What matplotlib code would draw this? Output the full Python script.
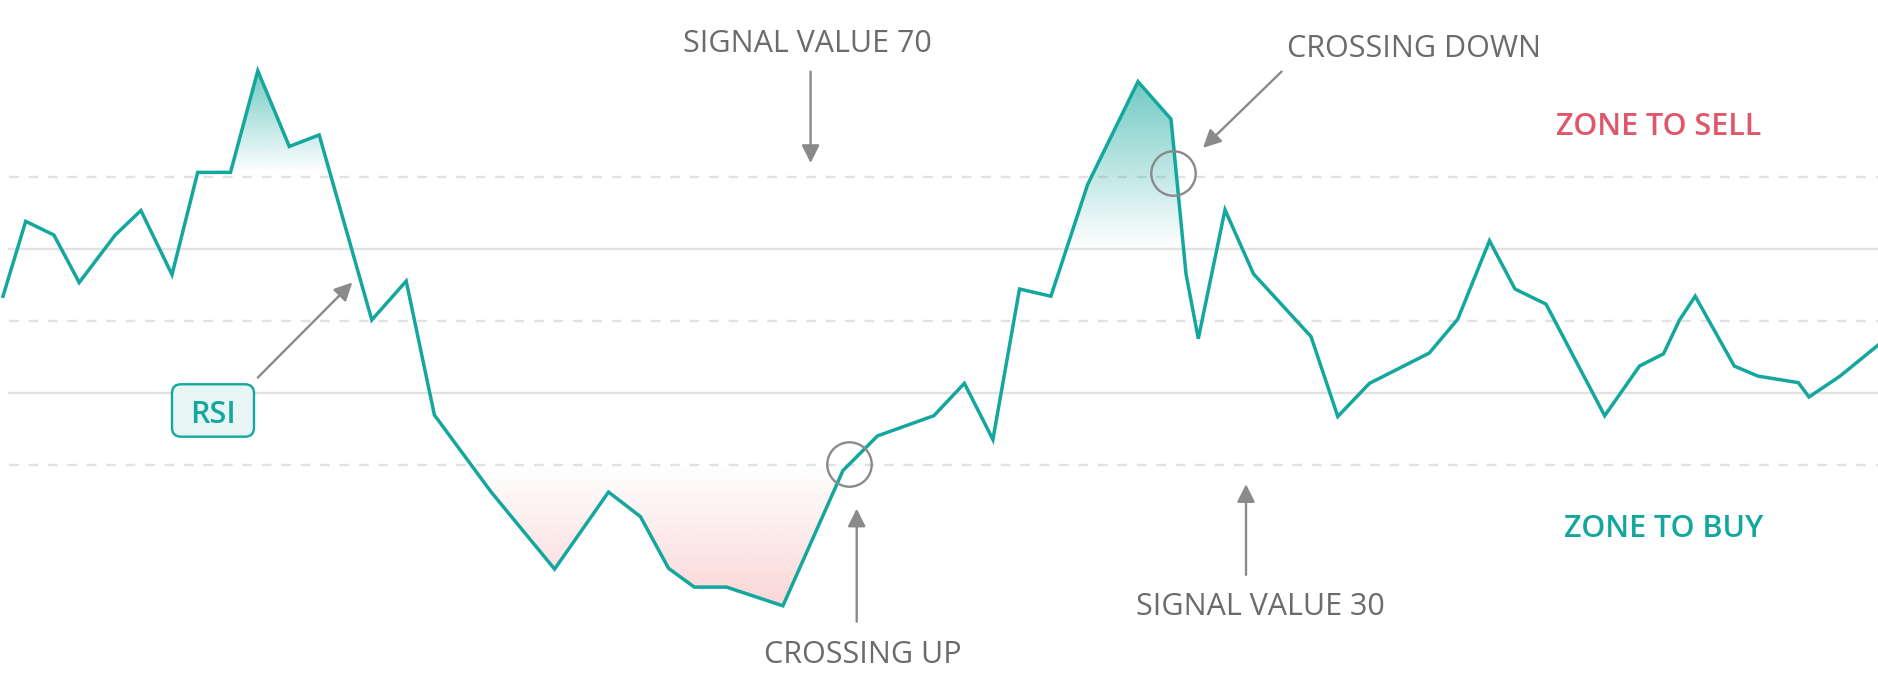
import matplotlib.pyplot as plt
import numpy as np
from matplotlib.colors import to_rgb
from matplotlib.patches import FancyBboxPatch

plt.rcParams['font.family'] = ['Open Sans', 'DejaVu Sans']
plt.rcParams['lines.scale_dashes'] = False

# RSI curve (x = time position, y = RSI value)
t = [3, 25.7, 53.9, 79.2, 115.2, 140.9, 172, 197.7, 230.5, 257.8,
     289.3, 319.2, 371.8, 406.2, 434.4, 491.2, 554.6, 608.5, 640.4, 668.6,
     694.3, 726.5, 782.9, 843, 877.5, 933.8, 964.4, 992.9, 1019.5, 1050.9,
     1087.6, 1138, 1171, 1186, 1198.3, 1225, 1253.5, 1311, 1337.8, 1369.5,
     1429.2, 1457.7, 1489.5, 1515, 1546, 1604.7, 1639.5, 1663.5, 1679.5, 1695.2,
     1734.3, 1758, 1798.3, 1809, 1840, 1878]
rsi = [53.4, 63.8, 61.9, 55.3, 61.9, 65.3, 56.4, 70.6, 70.6, 84.7,
       74.2, 75.8, 50.1, 55.5, 36.9, 26.2, 15.5, 26.2, 22.8, 15.6,
       13.0, 13.0, 10.4, 29.2, 34.0, 36.8, 41.3, 33.5, 54.4, 53.4,
       68.9, 83.2, 78.0, 56.5, 47.5, 65.4, 56.5, 47.8, 36.7, 41.3,
       45.5, 50.2, 61.1, 54.4, 52.3, 36.8, 43.7, 45.4, 50.1, 53.4,
       43.7, 42.3, 41.4, 39.4, 42.3, 46.6]

levels = [70, 60, 50, 40, 30]
dashed_levels = [70, 50, 30]
signal_high = 70
signal_low = 30

# crossing points marked with circles
cross_t = [849, 1172.7]
cross_v = [30.1, 70.5]

teal = '#14a79d'
red = '#e0566a'
grey = '#8a8a8a'
text_grey = '#6b6b6b'

t_arr = np.array(t)
v_arr = np.array(rsi)

fig = plt.figure(figsize=(18.78, 6.78), dpi=100)
ax = fig.add_axes([0, 0, 1, 1])
ax.set_xlim(0, 1878)
ax.set_ylim(0.375, 94.54)
ax.axis('off')

for lv in levels:
    ls = (0, (7, 7)) if lv in dashed_levels else '-'
    ax.axhline(lv, xmin=0.005, color='#e2e2e2', lw=1.7, ls=ls, zorder=1)


def gradient_fill(mask, base, color, alpha, fade_up=True):
    coll = ax.fill_between(t_arr, v_arr, base, where=mask, interpolate=True,
                           facecolor='none', edgecolor='none')
    path = coll.get_paths()[0]
    ext = path.get_extents()
    n = 256
    img = np.zeros((n, 1, 4))
    img[..., :3] = to_rgb(color)
    if fade_up:
        img[:, 0, 3] = np.linspace(0, alpha, n)
    else:
        img[:, 0, 3] = np.linspace(alpha, 0, n)
    im = ax.imshow(img, extent=[ext.x0, ext.x1, ext.y0, ext.y1], origin='lower',
                   aspect='auto', interpolation='bilinear', zorder=2)
    im.set_clip_path(path, transform=ax.transData)


gradient_fill((v_arr >= 70.6) & (t_arr < 400), 70.6, teal, 0.6)
gradient_fill((v_arr >= 60) & (t_arr > 1000) & (t_arr < 1200), 60, teal, 0.6)
gradient_fill(v_arr <= signal_low, signal_low, '#f08080', 0.32, fade_up=False)

ax.plot(t, rsi, color=teal, lw=2.5, solid_joinstyle='miter', zorder=3)

ax.plot(cross_t, cross_v, 'o', ms=32, mfc='none', mec=grey, mew=1.7, zorder=4)

arrow = dict(arrowstyle='-|>,head_length=0.6,head_width=0.3', mutation_scale=18,
             color=grey, lw=1.7, shrinkA=0, shrinkB=0)
ax.annotate('', xy=(810.6, 71.9), xytext=(810.6, 84.6), arrowprops=arrow)
ax.annotate('', xy=(1203, 74.0), xytext=(1281.6, 84.6), arrowprops=arrow)
ax.annotate('', xy=(352.3, 55.3), xytext=(257.8, 42.1), arrowprops=arrow)
ax.annotate('', xy=(856.7, 23.9), xytext=(856.7, 8.2), arrowprops=arrow)
ax.annotate('', xy=(1246, 27.3), xytext=(1246, 14.7), arrowprops=arrow)

fs = 22
ax.text(807.5, 87.36, 'SIGNAL VALUE 70', ha='center', va='baseline', fontsize=fs, color=text_grey)
ax.text(1414, 86.58, 'CROSSING DOWN', ha='center', va='baseline', fontsize=fs, color=text_grey)
ax.text(1260, 9.13, 'SIGNAL VALUE 30', ha='center', va='baseline', fontsize=fs, color=text_grey)
ax.text(863, 2.42, 'CROSSING UP', ha='center', va='baseline', fontsize=fs, color=text_grey)
ax.text(1659, 75.79, 'ZONE TO SELL', ha='center', va='baseline', fontsize=fs,
        color=red, fontweight='semibold')
ax.text(1664, 20.0, 'ZONE TO BUY', ha='center', va='baseline', fontsize=fs,
        color=teal, fontweight='semibold')

box = FancyBboxPatch((172, 33.89), 82, 7.28, boxstyle='round,pad=0,rounding_size=9',
                     mutation_aspect=1 / 7.2, fc='#e7f6f4', ec=teal, lw=1.7, zorder=4)
ax.add_patch(box)
ax.text(213, 35.75, 'RSI', ha='center', va='baseline', fontsize=fs, color=teal,
        fontweight='semibold', zorder=5)

fig.savefig('out.png', dpi=100)
